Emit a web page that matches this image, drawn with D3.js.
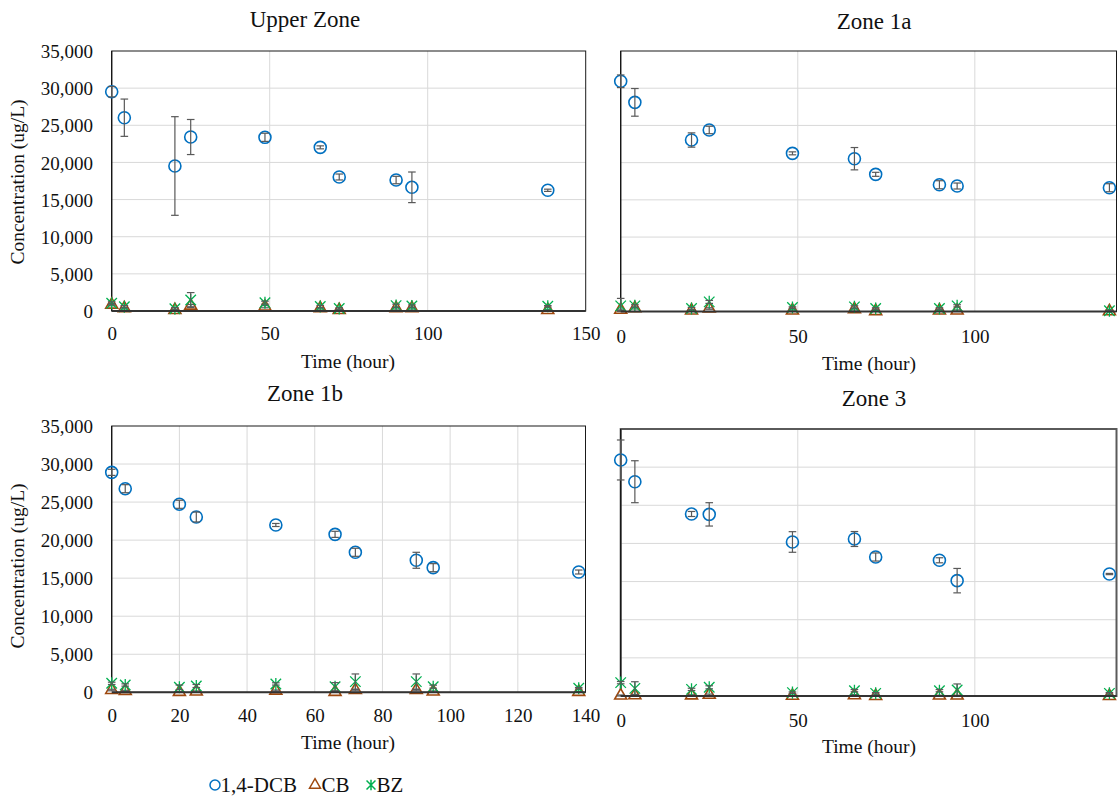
<!DOCTYPE html>
<html>
<head>
<meta charset="utf-8">
<script src="https://cdn.jsdelivr.net/npm/d3@7"></script>
<style>
  html, body { margin: 0; padding: 0; background: #fff; }
  svg text { font-family: "Liberation Serif", "Times New Roman", serif; }
</style>
</head>
<body>
<svg id="chart" width="1120" height="800"></svg>
<script>
// Sampling times (hours)
const hours = [0, 4, 20, 25, 48.5, 66, 72, 90, 95, 138];
const zoneNames = ["Upper Zone", "Zone 1a", "Zone 1b", "Zone 3"];
const seriesNames = ["1,4-DCB", "CB", "BZ"];
const yTicks = [0, 5000, 10000, 15000, 20000, 25000, 30000, 35000];

// Upper Zone (ug/L, mean and error)
const upperDCB    = [29520, 26020, 19520, 23420, 23380, 22030, 18040, 17630, 16650, 16250];
const upperDCBErr = [700, 2510, 6640, 2360, 550, 200, 400, 500, 2060, 150];
const upperCB     = [850, 360, 130, 720, 580, 360, 130, 360, 360, 130];
const upperCBErr  = [150, 100, 100, 150, 150, 100, 100, 100, 100, 50];
const upperBZ     = [1040, 580, 300, 1480, 1120, 600, 330, 720, 670, 630];
const upperBZErr  = [200, 150, 150, 1000, 200, 150, 100, 200, 150, 100];

// Zone 1a
const z1aDCB    = [30930, 28100, 23040, 24390, 21250, 20530, 18430, 17030, 16860, 16630];
const z1aDCBErr = [850, 1860, 960, 500, 200, 1500, 270, 540, 400, 540];
const z1aCB     = [220, 440, 130, 400, 130, 300, 50, 130, 130, 20];
const z1aCBErr  = [100, 100, 100, 100, 80, 100, 50, 80, 80, 50];
const z1aBZ     = [760, 760, 400, 1290, 530, 620, 400, 400, 760, 100];
const z1aBZErr  = [1000, 150, 150, 200, 100, 150, 100, 100, 150, 80];

// Zone 1b
const z1bDCB    = [28910, 26760, 24710, 23040, 21990, 20760, 18400, 17350, 16380, 15810];
const z1bDCBErr = [400, 530, 530, 650, 200, 400, 530, 1050, 530, 260];
const z1bCB     = [300, 180, 50, 100, 220, 50, 300, 300, 100, 50];
const z1bCBErr  = [100, 80, 50, 80, 80, 50, 100, 100, 80, 50];
const z1bBZ     = [1180, 960, 660, 830, 1100, 740, 1400, 1400, 740, 530];
const z1bBZErr  = [150, 150, 300, 200, 150, 530, 1010, 1010, 200, 100];

// Zone 3
const z3DCB    = [30940, 28090, 23860, 23810, 20190, 20580, 18220, 17790, 15120, 15990];
const z3DCBErr = [2620, 2750, 330, 1530, 1350, 980, 530, 330, 1600, 80];
const z3CB     = [50, 100, 80, 150, 20, 100, 0, 50, 50, 0];
const z3CBErr  = [80, 100, 80, 100, 50, 80, 50, 50, 50, 50];
const z3BZ     = [1750, 1000, 870, 1140, 440, 700, 350, 700, 790, 350];
const z3BZErr  = [150, 870, 150, 200, 100, 150, 100, 150, 790, 100];

// Series styling
const colors = { dcb: "#0070C0", cb: "#9E480E", bz: "#00B050" };
const serif = "'Liberation Serif', 'Times New Roman', serif";

// Panel layout
const panels = [
  { name: zoneNames[0], left: 111.7, right: 585.7, top: 51, bottom: 311, xMax: 150,
    xTicks: [0, 50, 100, 150], yLabels: true, titleX: 305, titleY: 19, tickY: 333,
    axisTitleX: 348, axisTitleY: 361, yTitleY: 182,
    frame: "#1a1a1a", frameW: 1,
    series: [[upperDCB, upperDCBErr], [upperCB, upperCBErr], [upperBZ, upperBZErr]] },
  { name: zoneNames[1], left: 620.7, right: 1116.5, top: 51, bottom: 311.5, xMax: 140,
    xTicks: [0, 50, 100], yLabels: false, titleX: 874, titleY: 20.5, tickY: 336.5,
    axisTitleX: 869, axisTitleY: 363,
    frame: "#1a1a1a", frameW: 1,
    series: [[z1aDCB, z1aDCBErr], [z1aCB, z1aCBErr], [z1aBZ, z1aBZErr]] },
  { name: zoneNames[2], left: 111.7, right: 585.5, top: 426, bottom: 692.3, xMax: 140,
    xTicks: [0, 20, 40, 60, 80, 100, 120, 140], yLabels: true, titleX: 305, titleY: 393, tickY: 715,
    axisTitleX: 348, axisTitleY: 742.5, yTitleY: 566,
    frame: "#1a1a1a", frameW: 1,
    series: [[z1bDCB, z1bDCBErr], [z1bCB, z1bCBErr], [z1bBZ, z1bBZErr]] },
  { name: zoneNames[3], left: 620.7, right: 1116.5, top: 429, bottom: 696, xMax: 140,
    xTicks: [0, 50, 100], yLabels: false, titleX: 874, titleY: 398, tickY: 720,
    axisTitleX: 869, axisTitleY: 746.5,
    frame: "#5a5a5a", frameW: 2,
    series: [[z3DCB, z3DCBErr], [z3CB, z3CBErr], [z3BZ, z3BZErr]] }
];

// Asterisk marker: an X crossed by a vertical stroke
const symbolStar = {
  draw(ctx, size) {
    const r = Math.sqrt(size) / 2;
    ctx.moveTo(-r, -r); ctx.lineTo(r, r);
    ctx.moveTo(r, -r); ctx.lineTo(-r, r);
    ctx.moveTo(0, -r * 1.15); ctx.lineTo(0, r * 1.15);
  }
};

const markerDefs = [
  { type: d3.symbolCircle, size: Math.PI * 36, color: colors.dcb, fill: "none", width: 1.6 },
  { type: d3.symbolTriangle, size: 62, color: colors.cb, fill: "#fff", width: 1.6 },
  { type: symbolStar, size: 110, color: colors.bz, fill: "none", width: 1.3 }
];

const svg = d3.select("#chart");

function label(sel) {
  return sel.style("font-family", serif).attr("fill", "#111");
}

panels.forEach(p => {
  const x = d3.scaleLinear().domain([0, p.xMax]).range([p.left, p.right]);
  const y = d3.scaleLinear().domain([0, 35000]).range([p.bottom, p.top]);
  const g = svg.append("g");

  // Horizontal gridlines
  g.selectAll("line.hgrid").data(yTicks.slice(1, -1)).join("line")
    .attr("x1", p.left).attr("x2", p.right)
    .attr("y1", d => y(d)).attr("y2", d => y(d))
    .attr("stroke", "#d9d9d9").attr("stroke-width", 1);

  // Vertical gridlines
  g.selectAll("line.vgrid").data(p.xTicks.filter(t => t > 0 && t < p.xMax)).join("line")
    .attr("x1", d => x(d)).attr("x2", d => x(d))
    .attr("y1", p.top).attr("y2", p.bottom)
    .attr("stroke", "#d9d9d9").attr("stroke-width", 1);

  // Plot frame
  g.append("rect")
    .attr("x", p.left).attr("y", p.top)
    .attr("width", p.right - p.left).attr("height", p.bottom - p.top)
    .attr("fill", "none").attr("stroke", p.frame).attr("stroke-width", p.frameW);
  g.append("line")
    .attr("x1", p.left).attr("x2", p.left).attr("y1", p.top).attr("y2", p.bottom)
    .attr("stroke", "#111").attr("stroke-width", 1.2);

  // X axis labels
  const xAxis = d3.axisBottom(x).tickValues(p.xTicks).tickSize(0).tickFormat(d3.format("d"));
  const xg = g.append("g").attr("transform", `translate(0,${p.tickY})`).call(xAxis);
  xg.select(".domain").remove();
  xg.attr("font-family", null);
  label(xg.selectAll("text")).attr("y", 0).attr("dy", "0.35em").attr("font-size", 19);

  // Y axis labels
  if (p.yLabels) {
    const yAxis = d3.axisLeft(y).tickValues(yTicks).tickSize(0).tickFormat(d3.format(","));
    const yg = g.append("g").attr("transform", `translate(${93},0)`).call(yAxis);
    yg.select(".domain").remove();
    yg.attr("font-family", null);
    label(yg.selectAll("text")).attr("x", 0).attr("dy", "0.35em").attr("font-size", 19);
    label(g.append("text"))
      .attr("transform", `translate(17,${p.yTitleY}) rotate(-90)`)
      .attr("text-anchor", "middle").attr("dy", "0.35em")
      .attr("font-size", 19.5)
      .text("Concentration (ug/L)");
  }

  // Titles
  label(g.append("text"))
    .attr("x", p.titleX).attr("y", p.titleY)
    .attr("text-anchor", "middle").attr("dy", "0.35em")
    .attr("font-size", 23)
    .text(p.name);
  label(g.append("text"))
    .attr("x", p.axisTitleX).attr("y", p.axisTitleY)
    .attr("text-anchor", "middle").attr("dy", "0.35em")
    .attr("font-size", 19.5)
    .text("Time (hour)");

  // Series: markers then error bars
  p.series.forEach(([vals, errs], si) => {
    const m = markerDefs[si];
    const pts = hours.map((h, i) => ({ h, v: vals[i], e: errs[i] }));
    const sg = g.append("g");
    sg.selectAll("path").data(pts).join("path")
      .attr("transform", d => `translate(${x(d.h)},${y(d.v)})`)
      .attr("d", d3.symbol().type(m.type).size(m.size))
      .attr("fill", m.fill).attr("stroke", m.color).attr("stroke-width", m.width);

    const eg = g.append("g").attr("stroke", "#595959").attr("stroke-width", 1.2);
    pts.forEach(d => {
      const cx = x(d.h), yT = y(d.v + d.e), yB = y(Math.max(0, d.v - d.e));
      eg.append("line").attr("x1", cx).attr("x2", cx).attr("y1", yT).attr("y2", yB);
      eg.append("line").attr("x1", cx - 3.8).attr("x2", cx + 3.8).attr("y1", yT).attr("y2", yT);
      eg.append("line").attr("x1", cx - 3.8).attr("x2", cx + 3.8).attr("y1", yB).attr("y2", yB);
    });
  });

  // Zero baseline
  g.append("line")
    .attr("x1", p.left).attr("x2", p.right).attr("y1", y(0)).attr("y2", y(0))
    .attr("stroke", "#333").attr("stroke-width", 2);
});

// Legend
const legendItems = [
  { name: seriesNames[0], mx: 215, tx: 220.5 },
  { name: seriesNames[1], mx: 315, tx: 321.5 },
  { name: seriesNames[2], mx: 371, tx: 376.5 }
];
const lg = svg.append("g");
legendItems.forEach((it, i) => {
  const m = markerDefs[i];
  lg.append("path")
    .attr("transform", `translate(${it.mx},785)`)
    .attr("d", d3.symbol().type(m.type).size(i === 0 ? Math.PI * 25 : (i === 1 ? 52 : 80)))
    .attr("fill", m.fill).attr("stroke", m.color).attr("stroke-width", 1.5);
  label(lg.append("text"))
    .attr("x", it.tx).attr("y", 785).attr("dy", "0.35em")
    .attr("font-size", 21)
    .text(it.name);
});
</script>
</body>
</html>
